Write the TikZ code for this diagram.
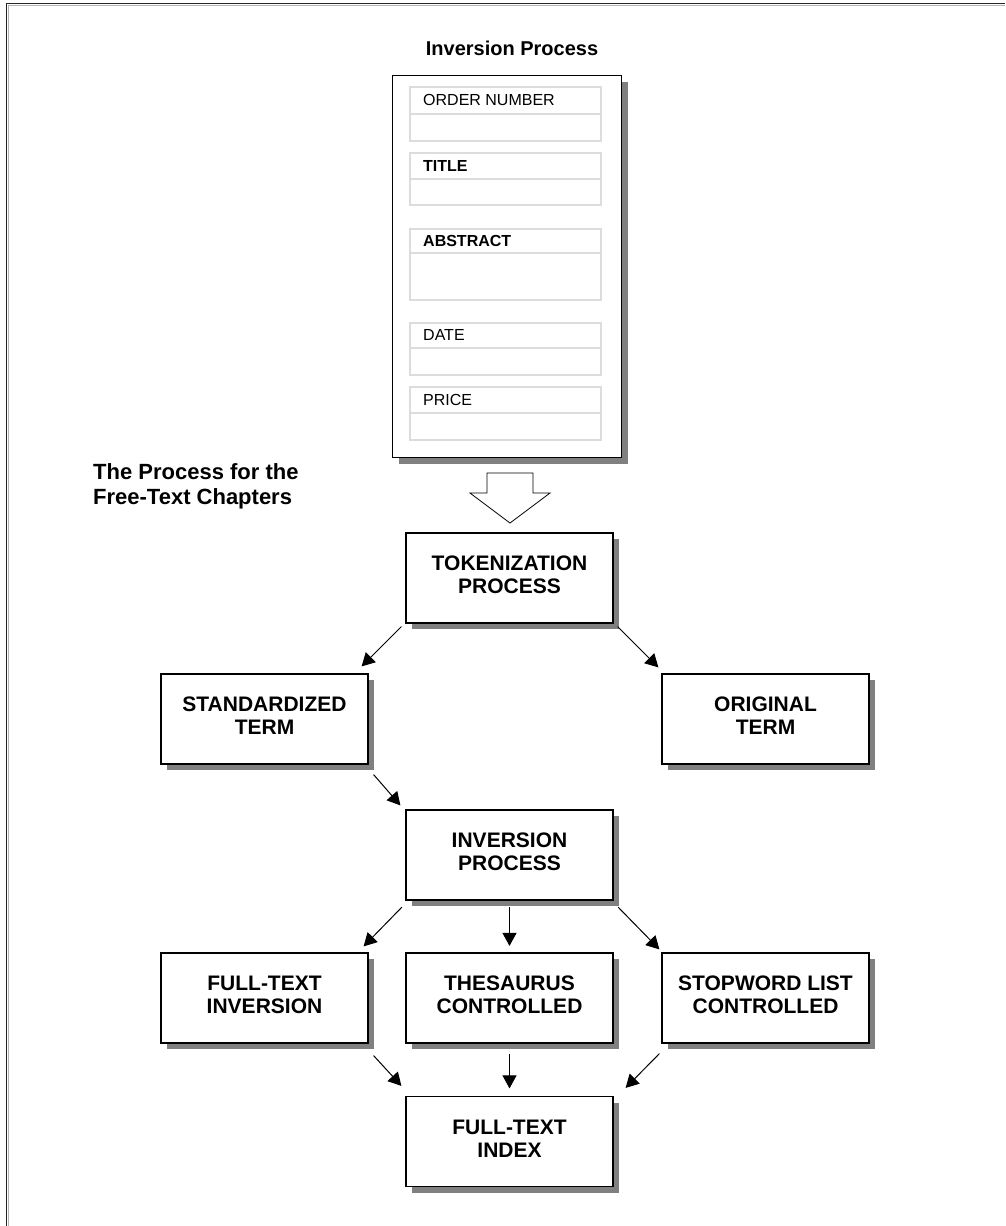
\documentclass[tikz,border=0pt]{standalone}
\usepackage{fontspec}
\setmainfont{Liberation Sans}
\usetikzlibrary{arrows.meta,shadows}

\definecolor{shadowgray}{HTML}{808080}
\definecolor{fieldgray}{HTML}{DCDCDC}
\definecolor{framedark}{HTML}{262626}
\definecolor{framelight}{HTML}{B4B4B4}

\begin{document}
\begin{tikzpicture}[x=1pt,y=-1pt,
  stepbox/.style={draw=black, line width=1.2pt, fill=white,
    minimum width=207pt, minimum height=90pt, inner sep=0pt,
    align=center, font=\fontsize{21}{23}\selectfont\bfseries,
    text depth=6pt,
    drop shadow={shadow xshift=6pt, shadow yshift=-6pt,
      fill=shadowgray, opacity=1}},
  card/.style={draw=black, line width=1pt, fill=white,
    minimum width=229pt, minimum height=382pt, inner sep=0pt,
    drop shadow={shadow xshift=7pt, shadow yshift=-7pt,
      fill=shadowgray, opacity=1}},
  field/.style={draw=fieldgray, line width=2pt},
  fieldlabel/.style={anchor=base west, inner sep=0pt,
    font=\fontsize{16}{19}\selectfont},
  boldlabel/.style={fieldlabel, font=\fontsize{16}{19}\selectfont\bfseries},
  heading/.style={font=\fontsize{20}{25}\selectfont\bfseries, inner sep=0pt},
  arr/.style={line width=1pt, -{Triangle[length=13pt,width=14pt]}},
  blockarrow/.style={draw=black, line width=0.8pt, fill=white}]

\useasboundingbox (0,0) rectangle (1005,1226);
\fill[white] (0,0) rectangle (1005,1226);

% page frame (top and left edges)
\draw[framelight, line width=1pt] (1005,5.2) -- (8,5.2) -- (8,1226);
\draw[framedark, line width=1.4pt] (1005,3.6) -- (6.5,3.6) -- (6.5,1226);

% title
\node[heading] (title) at (512,48) {Inversion Process};

% record card with its fields
\node[card] (card) at (506.5,266) {};
\foreach \top/\mid/\bot in {87.3/114/140.7, 152.7/179.3/205,
    229.3/252.7/300, 323.3/348.3/375, 387.3/413.3/440}{
  \draw[field] (410,\top) rectangle (601,\bot);
  \draw[field] (410,\mid) -- (601,\mid);
}
\node[fieldlabel] (fordno) at (423,105.5) {ORDER NUMBER};
\node[boldlabel] (ftitle) at (423,171) {TITLE};
\node[boldlabel] (fabstr) at (423,246.7) {ABSTRACT};
\node[fieldlabel] (fdate) at (423,340.7) {DATE};
\node[fieldlabel] (fprice) at (423,405) {PRICE};

% hollow block arrow below the card
\draw[blockarrow] (487,473) -- (533,473) -- (533,493) -- (550,493)
  -- (510,523) -- (470,493) -- (487,493) -- cycle;

% side heading
\node[heading, font=\fontsize{22}{25}\selectfont\bfseries,
  anchor=north west, align=left] (sidehead) at (93,463)
  {The Process for the\\Free-Text Chapters};

% process boxes
\node[stepbox] (tok)   at (509.5,578)   {TOKENIZATION\\PROCESS};
\node[stepbox] (std)   at (264.5,719)   {STANDARDIZED\\TERM};
\node[stepbox] (orig)  at (765.5,719)   {ORIGINAL\\TERM};
\node[stepbox] (inv)   at (509.5,855)   {INVERSION\\PROCESS};
\node[stepbox] (ftinv) at (264.5,998)   {FULL-TEXT\\INVERSION};
\node[stepbox] (thes)  at (509.5,998)   {THESAURUS\\CONTROLLED};
\node[stepbox] (stop)  at (765.5,998)   {STOPWORD LIST\\CONTROLLED};
\node[stepbox] (index) at (509.5,1141.5) {FULL-TEXT\\INDEX};

% connectors
\draw[arr] ([shift={(-4,3)}]tok.south west) -- ([shift={(-7,-7)}]std.north east);
\draw[arr] ([shift={(4,3)}]tok.south east) -- ([shift={(-3,-6)}]orig.north west);
\draw[arr] ([shift={(5,10)}]std.south east) -- ([shift={(-5,-4)}]inv.north west);
\draw[arr] ([shift={(-3.5,6.5)}]inv.south west) -- ([shift={(-5,-6)}]ftinv.north east);
\draw[arr] ([shift={(0,6.5)}]inv.south) -- ([shift={(0,-6.5)}]thes.north);
\draw[arr] ([shift={(4.5,6.5)}]inv.south east) -- ([shift={(-2,-3)}]stop.north west);
\draw[arr] ([shift={(5,12)}]ftinv.south east) -- ([shift={(-4,-10)}]index.north west);
\draw[arr] ([shift={(0,10)}]thes.south) -- ([shift={(0,-7.5)}]index.north);
\draw[arr] ([shift={(-2,10)}]stop.south west) -- ([shift={(12,-8)}]index.north east);

\end{tikzpicture}
\end{document}
